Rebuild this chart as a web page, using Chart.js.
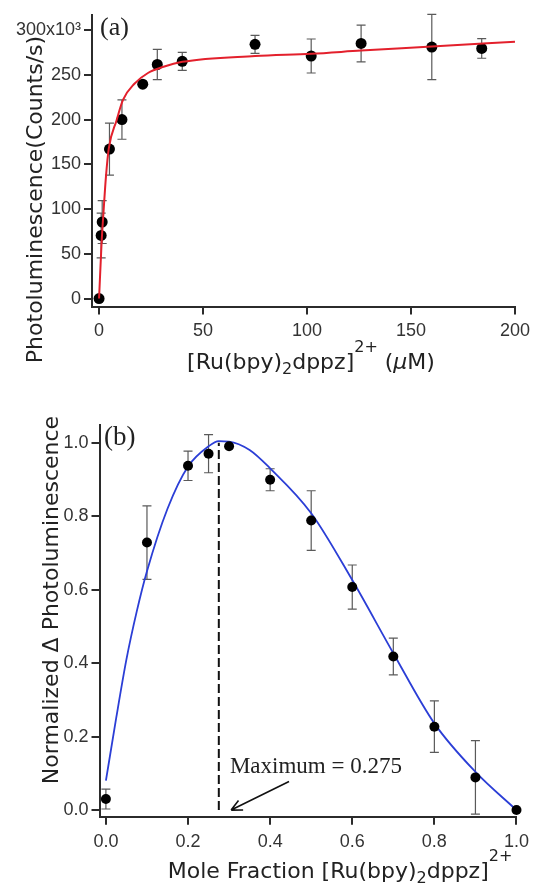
<!DOCTYPE html>
<html>
<head>
<meta charset="utf-8">
<script src="https://cdn.jsdelivr.net/npm/chart.js@4.4.1/dist/chart.umd.min.js"></script>
<style>
  html, body { margin: 0; padding: 0; background: #fff; }
  #wrap   { position: relative; width: 536px; height: 883px; overflow: hidden; }
  #chartA { position: absolute; left: 0; top: 0; }
  #chartB { position: absolute; left: 0; top: 380px; }
</style>
</head>
<body>
<div id="wrap">
  <canvas id="chartA" width="536" height="380"></canvas>
  <canvas id="chartB" width="536" height="503"></canvas>
</div>
<script>
// (a) titration: concentration in uM, photoluminescence in 10^3 counts/s
const concA   = [0, 1, 1.5, 5, 11, 21, 28, 40, 75, 102, 126, 160, 184];
const plA     = [0, 70.5, 85.5, 167, 200, 239.5, 261.5, 265, 284, 271, 285, 281, 279.5];
const errA    = [0, 25, 24, 29, 22, 0, 17, 10, 10, 19, 20.5, 36.5, 11];
const fitAx   = [0, 1.2, 2.2, 3.3, 4.7, 8.4, 11.5, 17, 23.5, 31, 40, 75, 102, 126, 160, 200];
const fitAy   = [0, 62, 99, 136, 168, 199, 222, 240, 252, 259, 264.5, 271, 273.5, 277, 281.5, 287];
const ticksAx = [0, 50, 100, 150, 200];
const ticksAy = [0, 50, 100, 150, 200, 250, 300];

// (b) Job plot: mole fraction vs normalized change in photoluminescence
const fracB   = [0, 0.1, 0.2, 0.25, 0.3, 0.4, 0.5, 0.6, 0.7, 0.8, 0.9, 1.0];
const normB   = [0.03, 0.728, 0.937, 0.97, 0.99, 0.899, 0.788, 0.607, 0.418, 0.227, 0.089, 0.0];
const errB    = [0.027, 0.1, 0.04, 0.052, 0, 0.03, 0.081, 0.06, 0.05, 0.07, 0.1, 0];
const fitBx   = [0, 0.025, 0.05, 0.075, 0.1, 0.15, 0.2, 0.25, 0.275, 0.3, 0.35, 0.4, 0.5, 0.6, 0.7, 0.8, 0.9, 1.0];
const fitBy   = [0.08, 0.25, 0.41, 0.54, 0.65, 0.82, 0.935, 0.99, 1.004, 1.003, 0.98, 0.93, 0.808, 0.626, 0.427, 0.236, 0.104, 0];
const ticksBx = [0, 0.2, 0.4, 0.6, 0.8, 1.0];
const ticksBy = [0, 0.2, 0.4, 0.6, 0.8, 1.0];

const maxFrac   = 0.275;
const maxLabel  = 'Maximum = 0.275';
const labelAt   = [0.302, 0.1];     // text anchor, data coords
const arrowFrom = [0.446, 0.078];
const arrowTo   = [0.305, 0.0];

const AXIS   = '#2b2b2b';
const TICKF  = "'Liberation Sans Narrow', 'Liberation Sans', sans-serif";
const TITLEF = "'DejaVu Sans', sans-serif";
const SERIF  = "'Liberation Serif', 'Times New Roman', serif";

const pairs = (xs, ys) => xs.map((x, i) => ({ x, y: ys[i] }));

function drawRich(ctx, parts, cx, base, rot) {
  const fontOf = p => {
    if (p.k === 'sup' || p.k === 'sub') return `16px ${TITLEF}`;
    if (p.k === 'it') return `italic 22px ${TITLEF}`;
    return `22px ${TITLEF}`;
  };
  ctx.save();
  ctx.translate(cx, base);
  if (rot) ctx.rotate(rot);
  let w = 0;
  parts.forEach(p => { ctx.font = fontOf(p); w += ctx.measureText(p.t).width; });
  let x = -w / 2;
  ctx.fillStyle = '#222';
  ctx.textBaseline = 'alphabetic';
  ctx.textAlign = 'left';
  parts.forEach(p => {
    ctx.font = fontOf(p);
    const dy = p.k === 'sup' ? -17 : p.k === 'sub' ? 5 : 0;
    ctx.fillText(p.t, x, dy);
    x += ctx.measureText(p.t).width;
  });
  ctx.restore();
}

const errorBars = {
  id: 'errorBars',
  beforeDatasetsDraw(chart, args, opts) {
    const { ctx, scales: { x, y } } = chart;
    ctx.save();
    ctx.strokeStyle = '#5a5a5a';
    ctx.lineWidth = 1.2;
    opts.xs.forEach((v, i) => {
      const e = opts.err[i];
      if (!e) return;
      const px  = x.getPixelForValue(v);
      const top = y.getPixelForValue(opts.ys[i] + e);
      const bot = y.getPixelForValue(opts.ys[i] - e);
      ctx.beginPath();
      ctx.moveTo(px, top); ctx.lineTo(px, bot);
      ctx.moveTo(px - opts.cap, top); ctx.lineTo(px + opts.cap, top);
      ctx.moveTo(px - opts.cap, bot); ctx.lineTo(px + opts.cap, bot);
      ctx.stroke();
    });
    ctx.restore();
  }
};

function axis(min, max, ticks, fmt, pad, fitKey, fitVal) {
  return {
    type: 'linear', min, max,
    afterBuildTicks: s => { s.ticks = ticks.map(v => ({ value: v })); },
    afterFit: s => { s[fitKey] = fitVal; },
    border: { display: true, color: AXIS, width: 2 },
    grid: { drawOnChartArea: false, drawTicks: true, tickLength: 8, color: AXIS, lineWidth: 2 },
    ticks: { color: '#333', padding: pad, font: { family: TICKF, size: 18 }, callback: fmt, maxRotation: 0 }
  };
}

const labelsA = {
  id: 'labelsA',
  afterDraw(chart) {
    const ctx = chart.ctx;
    drawRich(ctx, [{ t: 'Photoluminescence(Counts/s)' }], 41.5, 199.5, -Math.PI / 2);
    drawRich(ctx, [
      { t: '[Ru(bpy)' }, { t: '2', k: 'sub' }, { t: 'dppz]' }, { t: '2+', k: 'sup' },
      { t: ' (' }, { t: 'μ', k: 'it' }, { t: 'M)' }
    ], 311, 369);
    ctx.save();
    ctx.font = `26px ${SERIF}`;
    ctx.fillStyle = '#222';
    ctx.fillText('(a)', 100, 35);
    ctx.restore();
  }
};

const labelsB = {
  id: 'labelsB',
  afterDraw(chart) {
    const { ctx, scales: { x, y } } = chart;
    drawRich(ctx, [{ t: 'Normalized Δ Photoluminescence' }], 57.5, 220, -Math.PI / 2);
    drawRich(ctx, [
      { t: 'Mole Fraction [Ru(bpy)' }, { t: '2', k: 'sub' }, { t: 'dppz]' }, { t: '2+', k: 'sup' }
    ], 340, 498);
    ctx.save();
    ctx.font = `27px ${SERIF}`;
    ctx.fillStyle = '#222';
    ctx.fillText('(b)', 104, 65);

    // dashed line at the maximum
    const mx = x.getPixelForValue(maxFrac);
    ctx.strokeStyle = '#111';
    ctx.lineWidth = 2;
    ctx.setLineDash([9, 4]);
    ctx.beginPath();
    ctx.moveTo(mx, y.getPixelForValue(0));
    ctx.lineTo(mx, y.getPixelForValue(1.0));
    ctx.stroke();
    ctx.setLineDash([]);

    ctx.font = `23px ${SERIF}`;
    ctx.fillText(maxLabel, x.getPixelForValue(labelAt[0]), y.getPixelForValue(labelAt[1]));

    const x0 = x.getPixelForValue(arrowFrom[0]), y0 = y.getPixelForValue(arrowFrom[1]);
    const x1 = x.getPixelForValue(arrowTo[0]),   y1 = y.getPixelForValue(arrowTo[1]);
    const ang = Math.atan2(y1 - y0, x1 - x0);
    ctx.lineWidth = 1.6;
    ctx.beginPath();
    ctx.moveTo(x0, y0); ctx.lineTo(x1, y1);
    [-0.45, 0.45].forEach(d => {
      ctx.moveTo(x1, y1);
      ctx.lineTo(x1 - 12 * Math.cos(ang + d), y1 - 12 * Math.sin(ang + d));
    });
    ctx.stroke();
    ctx.restore();
  }
};

new Chart(document.getElementById('chartA'), {
  type: 'scatter',
  data: {
    datasets: [
      { type: 'line', data: pairs(fitAx, fitAy), borderColor: '#e3202c', borderWidth: 2,
        pointRadius: 0, cubicInterpolationMode: 'monotone', fill: false, clip: false },
      { data: pairs(concA, plA), backgroundColor: '#000', borderWidth: 0, pointRadius: 5.5, clip: false }
    ]
  },
  options: {
    responsive: false, animation: false, events: [],
    layout: { padding: { top: 15, right: 17, left: 0, bottom: 0 } },
    plugins: {
      legend: { display: false }, tooltip: { enabled: false },
      errorBars: { xs: concA, ys: plA, err: errA, cap: 4.5 }
    },
    scales: {
      x: axis(-3.4, 200, ticksAx, v => String(v), 6, 'height', 73.5),
      y: axis(-8.9, 316.8, ticksAy, v => v === 300 ? '300x10³' : String(v), 3, 'width', 92)
    }
  },
  plugins: [errorBars, labelsA]
});

new Chart(document.getElementById('chartB'), {
  type: 'scatter',
  data: {
    datasets: [
      { data: pairs(fracB, normB), backgroundColor: '#000', borderWidth: 0, pointRadius: 5, clip: false },
      { type: 'line', data: pairs(fitBx, fitBy), borderColor: '#2b3ed6', borderWidth: 1.8,
        pointRadius: 0, cubicInterpolationMode: 'monotone', fill: false, clip: false }
    ]
  },
  options: {
    responsive: false, animation: false, events: [],
    layout: { padding: { top: 45, right: 13.3, left: 0, bottom: 0 } },
    plugins: {
      legend: { display: false }, tooltip: { enabled: false },
      errorBars: { xs: fracB, ys: normB, err: errB, cap: 4.5 }
    },
    scales: {
      x: axis(-0.0156, 1.0, ticksBx, v => v.toFixed(1), 7, 'height', 66.3),
      y: axis(-0.018, 1.048, ticksBy, v => v.toFixed(1), 3, 'width', 99.5)
    }
  },
  plugins: [errorBars, labelsB]
});
</script>
</body>
</html>
